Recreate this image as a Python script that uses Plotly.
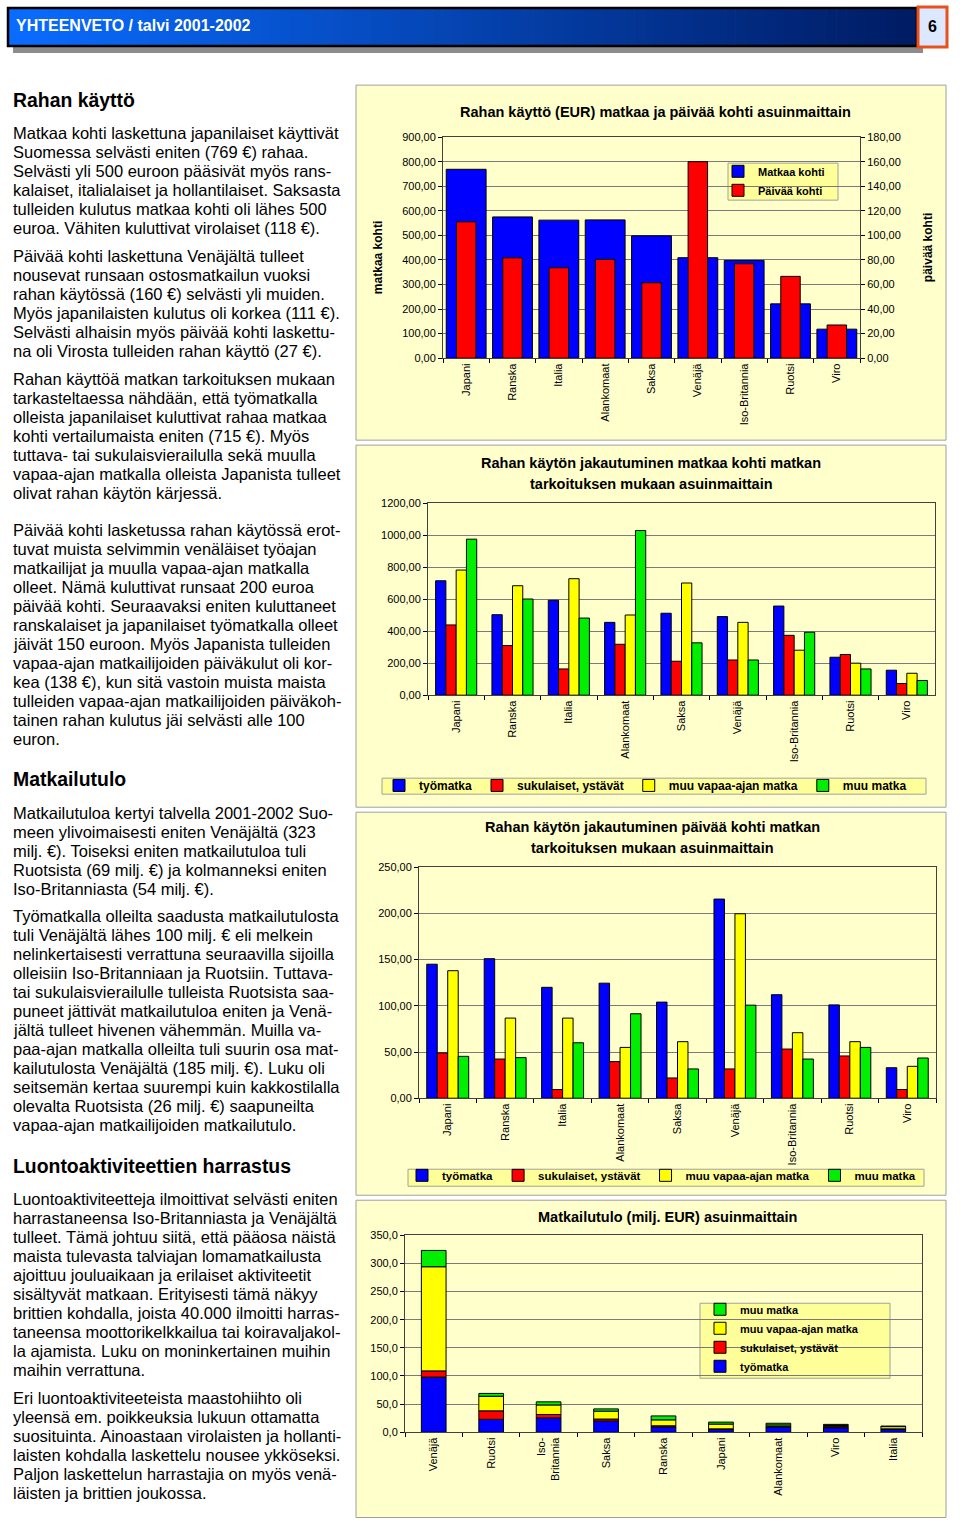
import plotly.graph_objects as go
import numpy as np

W, H = 960, 1524

# ---------------- data ----------------
countries = ["Japani", "Ranska", "Italia", "Alankomaat", "Saksa", "Venäjä",
             "Iso-Britannia", "Ruotsi", "Viro"]
per_trip = [769, 575, 562, 563, 498, 409, 398, 221, 118]
per_day = [111, 81.7, 73.6, 80.4, 61.4, 160, 76.9, 66.6, 27]

purposes = ["työmatka", "sukulaiset, ystävät", "muu vapaa-ajan matka", "muu matka"]
trip_work = [715, 503, 593, 455, 512, 491, 557, 237, 156]
trip_family = [439, 310, 164, 318, 212, 220, 374, 254, 73]
trip_leisure = [782, 684, 728, 501, 701, 455, 281, 200, 137]
trip_other = [975, 601, 482, 1029, 327, 220, 393, 164, 92]

day_work = [145, 151, 120, 124.5, 104, 215.5, 112, 101, 33]
day_family = [49, 42.4, 9.4, 39.6, 21.9, 31.7, 53.2, 45.7, 9.4]
day_leisure = [138, 86.7, 86.7, 55, 61.2, 199.6, 70.9, 61.2, 34.5]
day_other = [45.3, 43.9, 60, 91.4, 31.7, 100.7, 42.4, 55, 43.5]

income_countries = ["Venäjä", "Ruotsi", "Iso-<br>Britannia", "Saksa", "Ranska",
                    "Japani", "Alankomaat", "Viro", "Italia"]
inc_work = [98, 23, 25.5, 20, 9.5, 5.5, 9.5, 8, 5]
inc_family = [11, 15, 6, 3.5, 2, 0.5, 1, 2, 1]
inc_leisure = [185, 26, 17, 14, 10.5, 8.5, 2.5, 2, 4]
inc_other = [29, 5, 5.5, 4, 7, 3.5, 3, 2, 1]

header_text = "YHTEENVETO / talvi 2001-2002"
page_no = "6"

text_blocks = [
    ("h", ["Rahan käyttö"]),
    ("p", ["Matkaa kohti laskettuna japanilaiset käyttivät",
           "Suomessa selvästi eniten (769 €) rahaa.",
           "Selvästi yli 500 euroon pääsivät myös rans-",
           "kalaiset, italialaiset ja hollantilaiset. Saksasta",
           "tulleiden kulutus matkaa kohti oli lähes 500",
           "euroa. Vähiten kuluttivat virolaiset (118 €)."]),
    ("p", ["Päivää kohti laskettuna Venäjältä tulleet",
           "nousevat runsaan ostosmatkailun vuoksi",
           "rahan käytössä (160 €) selvästi yli muiden.",
           "Myös japanilaisten kulutus oli korkea (111 €).",
           "Selvästi alhaisin myös päivää kohti laskettu-",
           "na oli Virosta tulleiden rahan käyttö (27 €)."]),
    ("p", ["Rahan käyttöä matkan tarkoituksen mukaan",
           "tarkasteltaessa nähdään, että työmatkalla",
           "olleista japanilaiset kuluttivat rahaa matkaa",
           "kohti vertailumaista eniten (715 €). Myös",
           "tuttava- tai sukulaisvierailulla sekä muulla",
           "vapaa-ajan matkalla olleista Japanista tulleet",
           "olivat rahan käytön kärjessä."]),
    ("p", ["Päivää kohti lasketussa rahan käytössä erot-",
           "tuvat muista selvimmin venäläiset työajan",
           "matkailijat ja muulla vapaa-ajan matkalla",
           "olleet. Nämä kuluttivat runsaat 200 euroa",
           "päivää kohti. Seuraavaksi eniten kuluttaneet",
           "ranskalaiset ja japanilaiset työmatkalla olleet",
           "jäivät 150 euroon. Myös Japanista tulleiden",
           "vapaa-ajan matkailijoiden päiväkulut oli kor-",
           "kea (138 €), kun sitä vastoin muista maista",
           "tulleiden vapaa-ajan matkailijoiden päiväkoh-",
           "tainen rahan kulutus jäi selvästi alle 100",
           "euron."]),
    ("h", ["Matkailutulo"]),
    ("p", ["Matkailutuloa kertyi talvella 2001-2002 Suo-",
           "meen ylivoimaisesti eniten Venäjältä (323",
           "milj. €). Toiseksi eniten matkailutuloa tuli",
           "Ruotsista (69 milj. €) ja kolmanneksi eniten",
           "Iso-Britanniasta (54 milj. €)."]),
    ("p", ["Työmatkalla olleilta saadusta matkailutulosta",
           "tuli Venäjältä lähes 100 milj. € eli melkein",
           "nelinkertaisesti verrattuna seuraavilla sijoilla",
           "olleisiin Iso-Britanniaan ja Ruotsiin. Tuttava-",
           "tai sukulaisvierailulle tulleista Ruotsista saa-",
           "puneet jättivät matkailutuloa eniten ja Venä-",
           "jältä tulleet hivenen vähemmän. Muilla va-",
           "paa-ajan matkalla olleilta tuli suurin osa mat-",
           "kailutulosta Venäjältä (185 milj. €). Luku oli",
           "seitsemän kertaa suurempi kuin kakkostilalla",
           "olevalta Ruotsista (26 milj. €) saapuneilta",
           "vapaa-ajan matkailijoiden matkailutulo."]),
    ("h", ["Luontoaktiviteettien harrastus"]),
    ("p", ["Luontoaktiviteetteja ilmoittivat selvästi eniten",
           "harrastaneensa Iso-Britanniasta ja Venäjältä",
           "tulleet. Tämä johtuu siitä, että pääosa näistä",
           "maista tulevasta talviajan lomamatkailusta",
           "ajoittuu jouluaikaan ja erilaiset aktiviteetit",
           "sisältyvät matkaan. Erityisesti tämä näkyy",
           "brittien kohdalla, joista 40.000 ilmoitti harras-",
           "taneensa moottorikelkkailua tai koiravaljakol-",
           "la ajamista. Luku on moninkertainen muihin",
           "maihin verrattuna."]),
    ("p", ["Eri luontoaktiviteeteista maastohiihto oli",
           "yleensä em. poikkeuksia lukuun ottamatta",
           "suosituinta. Ainoastaan virolaisten ja hollanti-",
           "laisten kohdalla laskettelu nousee ykköseksi.",
           "Paljon laskettelun harrastajia on myös venä-",
           "läisten ja brittien joukossa."]),
]
# layout: starting y (px) of each text block
block_y = [100, 133, 256, 379, 530, 779, 813, 916, 1166, 1199, 1398]

# ---------------- helpers ----------------
def px(x):
    return x / W

def yc(y):
    # vertical calibration of page pixel positions
    return min(max((y - 5.89) / 0.99203, 0.0), H - 0.5)

def py(y):
    return 1 - yc(y) / H

def py_raw(y):
    return 1 - y / H

FONT = "Liberation Sans, Arial, sans-serif"
BLUE, RED, YEL, GRN = "#0000FF", "#FF0000", "#FFFF00", "#00EE00"
PANEL = "#FFFFCC"
LEGBG = "#FFFF99"

shapes = []
annotations = []

# header bar: shadow, gradient strips, border
shapes.append(dict(type="rect", xref="paper", yref="paper", x0=px(13), x1=px(923),
                   y0=py(53), y1=py(12), fillcolor="#8C8C8C", line=dict(width=0), layer="below"))
x_left, x_right = 8, 917
n = 90
c0 = np.array([10, 108, 255])
c1 = np.array([0, 28, 100])
for i in range(n):
    t = i / (n - 1)
    c = (c0 * (1 - t) + c1 * t).astype(int)
    xa = x_left + (x_right - x_left) * i / n
    xb = x_left + (x_right - x_left) * (i + 1) / n + 0.6
    shapes.append(dict(type="rect", xref="paper", yref="paper", x0=px(xa), x1=px(xb),
                       y0=py(46), y1=py(8), fillcolor=f"rgb({c[0]},{c[1]},{c[2]})",
                       line=dict(width=0), layer="below"))
shapes.append(dict(type="rect", xref="paper", yref="paper", x0=px(x_left), x1=px(x_right),
                   y0=py(46), y1=py(8), fillcolor="rgba(0,0,0,0)",
                   line=dict(color="black", width=2.5), layer="below"))
shapes.append(dict(type="rect", xref="paper", yref="paper", x0=px(918), x1=px(947),
                   y0=py(47), y1=py(7), fillcolor="#DCE8FF",
                   line=dict(color="#E8501E", width=3), layer="below"))
annotations.append(dict(text=header_text, x=px(14), y=py(25), xref="paper", yref="paper",
                        xanchor="left", yanchor="middle", showarrow=False,
                        font=dict(family="Liberation Sans Narrow, " + FONT, size=16,
                                  color="white", weight="bold")))
annotations.append(dict(text=page_no, x=px(932.5), y=py(26), xref="paper", yref="paper",
                        xanchor="center", yanchor="middle", showarrow=False,
                        font=dict(family=FONT, size=16, color="black", weight="bold")))

# chart panels
for (y0, y1) in [(85, 440), (445, 807), (812, 1195), (1200, 1519)]:
    shapes.append(dict(type="rect", xref="paper", yref="paper", x0=px(356), x1=px(946),
                       y0=py(y1), y1=py(y0), fillcolor=PANEL,
                       line=dict(color="#A0A0A0", width=1), layer="below"))

# legend boxes
for (x0, x1, y0, y1) in [(728, 838, 163, 200), (382, 926, 778, 794),
                         (408, 924, 1169, 1186), (700, 890, 1303, 1378)]:
    shapes.append(dict(type="rect", xref="paper", yref="paper", x0=px(x0), x1=px(x1),
                       y0=py(y1), y1=py(y0), fillcolor=LEGBG,
                       line=dict(color="#A0A0A0", width=1), layer="below"))

# left text column
for (kind, lines), y0 in zip(text_blocks, block_y):
    for j, line in enumerate(lines):
        if kind == "h":
            f = dict(family=FONT, size=19.4, color="black", weight="bold")
        else:
            f = dict(family=FONT, size=16.5, color="black")
        annotations.append(dict(text=line, x=px(11), y=py(y0 + 19 * j), xref="paper",
                                yref="paper", xanchor="left", yanchor="middle",
                                showarrow=False, font=f))

# chart titles & axis titles
def title(text, x, y, size=14.5):
    annotations.append(dict(text=text, x=px(x), y=py(y), xref="paper", yref="paper",
                            xanchor="center", yanchor="middle", showarrow=False,
                            font=dict(family=FONT, size=size, color="black", weight="bold")))

title("Rahan käyttö (EUR) matkaa ja päivää kohti asuinmaittain", 655, 112)
title("Rahan käytön jakautuminen matkaa kohti matkan", 651, 463)
title("tarkoituksen mukaan asuinmaittain", 651, 484)
title("Rahan käytön jakautuminen päivää kohti matkan", 652, 827)
title("tarkoituksen mukaan asuinmaittain", 652, 848)
title("Matkailutulo (milj. EUR) asuinmaittain", 667, 1217)
for txt, x, y in [("matkaa kohti", 378, 258), ("päivää kohti", 928, 248)]:
    annotations.append(dict(text=txt, x=px(x), y=py(y), xref="paper", yref="paper",
                            xanchor="center", yanchor="middle", showarrow=False,
                            textangle=-90,
                            font=dict(family=FONT, size=12, color="black", weight="bold")))

# ---------------- traces ----------------
line = dict(color="black", width=1)
fig = go.Figure()

fig.add_trace(go.Bar(x=countries, y=per_trip, name="Matkaa kohti", xaxis="x", yaxis="y",
                     marker=dict(color=BLUE, line=line), width=0.86, offset=-0.43,
                     legend="legend"))
fig.add_trace(go.Bar(x=countries, y=per_day, name="Päivää kohti", xaxis="x", yaxis="y2",
                     marker=dict(color=RED, line=line), width=0.42, offset=-0.21,
                     legend="legend"))

colors = [BLUE, RED, YEL, GRN]
for name, vals, col in zip(purposes, [trip_work, trip_family, trip_leisure, trip_other], colors):
    fig.add_trace(go.Bar(x=countries, y=vals, name=name, xaxis="x3", yaxis="y3",
                         marker=dict(color=col, line=line), legend="legend2"))
for name, vals, col in zip(purposes, [day_work, day_family, day_leisure, day_other], colors):
    fig.add_trace(go.Bar(x=countries, y=vals, name=name, xaxis="x4", yaxis="y4",
                         marker=dict(color=col, line=line), legend="legend3"))

base = np.zeros(len(income_countries))
for name, vals, col in zip(purposes, [inc_work, inc_family, inc_leisure, inc_other], colors):
    v = np.array(vals, dtype=float)
    fig.add_trace(go.Bar(x=income_countries, y=v, base=base.copy(), name=name,
                         xaxis="x5", yaxis="y5", marker=dict(color=col, line=line),
                         width=0.43, offset=-0.215, legend="legend4"))
    base = base + v

# ---------------- axes ----------------
def xax(x0, x1, anchor):
    return dict(domain=[px(x0), px(x1)], anchor=anchor, type="category",
                tickangle=-90, tickfont=dict(family=FONT, size=11, color="black"),
                showline=True, linecolor="#404040", mirror=True, ticks="outside",
                tickson="boundaries", ticklen=4, tickcolor="black", showgrid=False,
                fixedrange=True)

def yax(y0, y1, anchor, rng, dtick, fmt):
    return dict(domain=[py(y1), py(y0)], anchor=anchor, range=rng, dtick=dtick,
                tickformat=fmt, tickfont=dict(family=FONT, size=11, color="black"),
                showline=True, linecolor="#404040", mirror=True, ticks="outside",
                ticklen=4, tickcolor="black", showgrid=True, gridcolor="#7A7A7A",
                gridwidth=1, zeroline=False, fixedrange=True)

def legend(x, y, orient="v", order="normal", size=11):
    return dict(x=px(x), y=py_raw(y), xanchor="left", yanchor="top", orientation=orient,
                bgcolor="rgba(0,0,0,0)", borderwidth=0, traceorder=order,
                font=dict(family=FONT, size=size, color="black", weight="bold"),
                itemclick=False, itemdoubleclick=False)

y2 = yax(137, 358, "x", [0, 180], 20, ".2f")
y2.update(overlaying="y", side="right", showgrid=False, mirror=False)
y2.pop("domain")

fig.update_layout(
    width=W, height=H, autosize=False,
    margin=dict(l=0, r=0, t=0, b=0, pad=0),
    paper_bgcolor="white", plot_bgcolor="#C0C0C0",
    separators=",.",
    barmode="group", bargap=0.27, bargroupgap=0,
    font=dict(family=FONT, color="black"),
    showlegend=True,
    xaxis=xax(443, 860, "y"),
    yaxis=yax(137, 358, "x", [0, 900], 100, ".2f"),
    yaxis2=y2,
    xaxis3=xax(428, 935, "y3"),
    yaxis3=yax(503, 695, "x3", [0, 1200], 200, ".2f"),
    xaxis4=xax(419, 936, "y4"),
    yaxis4=yax(867, 1098, "x4", [0, 250], 50, ".2f"),
    xaxis5=xax(405, 922, "y5"),
    yaxis5=yax(1235, 1432, "x5", [0, 350], 50, ".1f"),
    legend=legend(718, 152),
    legend2=legend(379, 771, "h", size=12),
    legend3=legend(402, 1164, "h", size=11.5),
    legend4=legend(700, 1299, "v", "reversed"),
    shapes=shapes,
    annotations=annotations,
)

css_js = ("var s=document.documentElement.style;s.margin='0';s.padding='0';s.overflow='hidden';"
          "var b=document.body.style;b.margin='0';b.padding='0';b.overflow='hidden';")
fig.write_html("out.html", config={"displayModeBar": False}, post_script=css_js)
